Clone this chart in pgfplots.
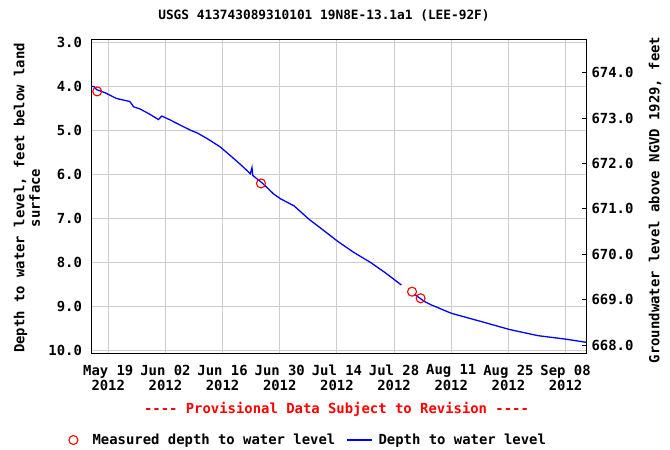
\documentclass[border=0pt]{standalone}
\usepackage{pgfplots}
\pgfplotsset{compat=1.18}
\usepackage{fontspec}
\setmainfont{DejaVu Sans Mono}[Ligatures=TeXOff]
\definecolor{gridgray}{RGB}{205,205,205}
\newcommand{\lbl}{\fontsize{13.9}{15.5}\selectfont\bfseries}

\begin{document}
\begin{tikzpicture}
\useasboundingbox (0pt,0pt) rectangle (670pt,-450pt);
\begin{axis}[
  at={(91.5pt,-39pt)}, anchor=north west,
  width=494.5pt, height=314.3pt, scale only axis,
  xmin=-4.1, xmax=117, ymin=2.92, ymax=10.06, y dir=reverse,
  xtick={0,14,28,42,56,70,84,98,112},
  xticklabels={May 19\\2012, Jun 02\\2012, Jun 16\\2012, Jun 30\\2012, Jul 14\\2012, Jul 28\\2012, Aug 11\\2012, Aug 25\\2012, Sep 08\\2012},
  xticklabel style={align=center, font=\lbl, yshift=-8pt},
  ytick={3,4,5,6,7,8,9,10},
  yticklabel style={font=\lbl, xshift=-6pt},
  /pgf/number format/assume math mode=true,
  /pgf/number format/.cd, fixed, fixed zerofill, precision=1, /pgfplots/.cd,
  major tick length=0pt,
  grid=major,
  major grid style={gridgray, line width=0.9pt},
  axis line style={black, line width=1pt},
  legend style={at={(-0.0465,-0.276)}, anchor=west, draw=none, fill=none,
    legend columns=2, font=\lbl, inner sep=0pt,
    /tikz/every odd column/.append style={column sep=4pt},
    /tikz/every even column/.append style={column sep=9pt}},
  legend cell align=left,
]
\addplot[only marks, mark=o, mark size=4.5pt, red, mark options={line width=1.1pt},
  legend image code/.code={\draw[red, only marks, mark=o, mark size=4.5pt, mark options={line width=1.1pt}] plot coordinates {(8.5pt,0pt)}; \path (4pt,0pt) (21.5pt,0pt);}] coordinates {
(-2.7,4.11) (37.4,6.20) (74.4,8.66) (76.5,8.81)
};
\addlegendentry{Measured depth to water level}
\addplot[blue, line width=1.3pt, forget plot] coordinates {
(-4.1,4.00) (-3.5,4.00) (-2.85,4.07) (-0.8,4.14) (2.0,4.27) (5.3,4.34) (6.2,4.46) (7.8,4.51)
(10.0,4.62) (12.3,4.75) (13.1,4.67) (15.2,4.76) (17.5,4.87) (20.1,4.99) (21.7,5.05) (24.2,5.18)
(27.4,5.37) (30.3,5.60) (32.5,5.78) (34.8,5.98) (35.2,5.84) (35.4,6.02) (37.7,6.19) (40.5,6.44)
(42.2,6.55) (45.5,6.71) (49.1,7.01) (52.9,7.28) (56.1,7.51) (60.0,7.76) (64.3,8.00) (68.0,8.24)
(71.8,8.51)
};
\addplot[blue, line width=1.3pt, legend image code/.code={\draw[blue, line width=1.3pt] (0pt,0pt) -- (25pt,0pt);}] coordinates {
(75.0,8.72) (77.4,8.88) (79.1,8.96) (84.0,9.15) (91.4,9.34) (98.3,9.52) (105.3,9.66) (112.2,9.74) (117.0,9.81)
};
\addlegendentry{Depth to water level}
\end{axis}
\begin{axis}[
  at={(91.5pt,-39pt)}, anchor=north west,
  width=494.5pt, height=314.3pt, scale only axis,
  xmin=-4.1, xmax=117, ymin=667.82, ymax=674.74,
  axis x line=none, axis y line*=right,
  ytick={668,669,670,671,672,673,674},
  yticklabel style={font=\lbl, xshift=2pt},
  /pgf/number format/assume math mode=true,
  /pgf/number format/.cd, fixed, fixed zerofill, precision=1, /pgfplots/.cd,
  tick align=inside, major tick length=4pt,
  tick style={black, line width=0.9pt},
  axis line style={black, line width=1pt},
]
\end{axis}
\node[font=\fontsize{12.8}{14}\selectfont\bfseries] at (324pt,-15pt) {USGS 413743089310101 19N8E-13.1a1 (LEE-92F)};
\node[font=\lbl, rotate=90, align=center] at (27pt,-198pt) {Depth to water level, feet below land\\surface};
\node[font=\lbl, rotate=90] at (655pt,-200pt) {Groundwater level above NGVD 1929, feet};
\node[font=\lbl, red] at (336.5pt,-409pt) {---- Provisional Data Subject to Revision ----};
\end{tikzpicture}
\end{document}
